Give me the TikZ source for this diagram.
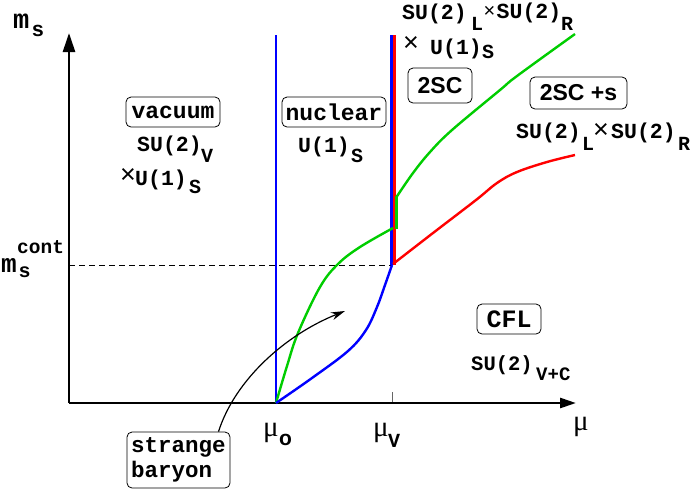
\documentclass[tikz,border=0pt]{standalone}
\usepackage{fontspec}
\setmainfont{Liberation Sans}
\newfontfamily\cour{Liberation Mono}
\newfontfamily\helv{Liberation Sans}
\newfontfamily\tms{Liberation Serif}
\usetikzlibrary{arrows.meta}
\definecolor{fgreen}{RGB}{0,205,0}
\definecolor{fblue}{RGB}{0,0,255}
\definecolor{fred}{RGB}{255,0,0}
\tikzset{
  lab/.style={inner sep=0pt, anchor=base west, font=\cour\bfseries\fontsize{21.5}{22}\selectfont},
  sublab/.style={inner sep=0pt, anchor=base west, font=\cour\bfseries\fontsize{20}{20}\selectfont},
  crosslab/.style={inner sep=0pt, anchor=center, font=\helv\fontsize{27}{27}\selectfont},
  mulab/.style={inner sep=0pt, anchor=base west, font=\tms\fontsize{29}{29}\selectfont},
  phasebox/.style={draw, rounded corners=5pt, line width=0.8pt, inner sep=0pt, anchor=center,
     font=\cour\bfseries\fontsize{23}{23}\selectfont},
  sansbox/.style={phasebox, font=\helv\bfseries\fontsize{23}{23}\selectfont},
  axisline/.style={line width=2.6pt},
  phline/.style={line width=2.4pt},
}
\begin{document}
\begin{tikzpicture}[x=1pt,y=-1pt]
\useasboundingbox (0,0) rectangle (692,491);
% axes
\coordinate (O) at (69,403);
\coordinate (ytip) at (69,33);
\coordinate (xtip) at (576,403);
\draw[axisline,-{Triangle[length=19pt,width=12pt]}] (O) -- (ytip);
\draw[axisline,-{Triangle[length=16pt,width=10pt]}] (O) -- (xtip);
% tick at mu_V
\coordinate (tickT) at (392,392);
\coordinate (tickB) at (392,402);
\draw[line width=0.6pt, black!60] (tickT) -- (tickB);
% dashed line
\coordinate (dL) at (69,265);
\coordinate (dR) at (392,265);
\draw[line width=0.7pt, dash pattern=on 6pt off 4pt] (dL) -- (dR);
% vertical line at mu_o
\coordinate (m0top) at (276,35);
\coordinate (m0bot) at (276,403);
\draw[phline, fblue] (m0top) -- (m0bot);
% red and blue vertical at mu_V
\coordinate (rtop) at (394.6,35);
\coordinate (rbot) at (394.6,265);
\draw[phline, fred] (rtop) -- (rbot);
\coordinate (btop) at (391.5,35);
\coordinate (bbot) at (391.5,265);
\draw[phline, fblue] (btop) -- (bbot);
% green vertical short segment
\coordinate (gvT) at (396.5,196);
\coordinate (gvB) at (396.5,229);
\draw[phline, fgreen, line cap=butt] (gvT) -- (gvB);
% lower green curve
\draw[phline, fgreen] plot[smooth, tension=0.6] coordinates {(276,403) (287,366) (298,333) (320,287) (338,264) (360,247) (393,228)};
% blue curve
\draw[phline, fblue] plot[smooth, tension=0.6] coordinates {(276,403) (312,378) (348,351) (366,330) (377,307) (385,285) (392,265)};
% red curve
\draw[phline, fred] plot[smooth, tension=0.6] coordinates {(393,264) (433,233) (476,200) (497,183) (517,172) (547,162) (575,155)};
% upper green curve
\draw[phline, fgreen] plot[smooth, tension=0.6] coordinates {(396.5,197) (413,173) (430,152) (452,130) (500,90) (517,76) (575,34)};
% labels: axes
\node[inner sep=0pt, anchor=base west, font=\cour\bfseries\fontsize{27}{27}\selectfont] (msm) at (13,28) {m};
\node[inner sep=0pt, anchor=base west, font=\helv\bfseries\fontsize{21}{21}\selectfont] (mss) at (32,36.5) {s};
\node[inner sep=0pt, anchor=base west, font=\cour\bfseries\fontsize{26}{26}\selectfont] (mcm) at (1,272) {m};
\node[inner sep=0pt, anchor=base west, font=\helv\bfseries\fontsize{20}{20}\selectfont] (mcs) at (19,277) {s};
\node[inner sep=0pt, anchor=base west, font=\cour\bfseries\fontsize{19.5}{20}\selectfont] (mcc) at (17,253) {cont};
\node[mulab] (mu0) at (263,436) {μ};
\node[inner sep=0pt, anchor=base west, font=\helv\bfseries\fontsize{21}{21}\selectfont] (mu0s) at (279,445.5) {o};
\node[mulab] (muV) at (373,436) {μ};
\node[sublab] (muVs) at (388,447) {V};
\node[mulab] (muax) at (573,430.5) {μ};
% phase boxes
\node[phasebox, minimum width=94pt, minimum height=30pt] (vac) at (173,112) {vacuum};
\node[phasebox, minimum width=104pt, minimum height=30pt] (nuc) at (334,112) {nuclear};
\node[sansbox, minimum width=64pt, minimum height=35pt] (tsc) at (440,85.5) {2SC};
\node[sansbox, minimum width=97pt, minimum height=32pt] (tscs) at (578.5,93) {2SC +s};
\node[phasebox, minimum width=64pt, minimum height=30pt, font=\cour\bfseries\fontsize{25}{25}\selectfont] (cfl) at (509,319) {CFL};
\node[phasebox, minimum width=103pt, minimum height=56pt, align=left, font=\cour\bfseries\fontsize{22.5}{25}\selectfont] (sb) at (178.5,460) {strange\\baryon};
% symmetry labels: vacuum
\node[lab] (vsu) at (137,151) {SU(2)};
\node[sublab] (vsuV) at (201,162) {V};
\node[crosslab] (vx) at (128,176) {×};
\node[lab] (vu) at (135,185) {U(1)};
\node[sublab] (vuS) at (189,193) {S};
% nuclear
\node[lab] (nu) at (298,152) {U(1)};
\node[sublab] (nuS) at (351,162) {S};
% top 2SC symmetry
\node[lab] (tsu1) at (402,19) {SU(2)};
\node[sublab] (tsuL) at (471,30) {L};
\node[crosslab, font=\helv\fontsize{20}{20}\selectfont] (tx1) at (489.5,12) {×};
\node[lab] (tsu2) at (496.5,18) {SU(2)};
\node[sublab] (tsuR) at (561,30) {R};
\node[crosslab] (tx2) at (411,44) {×};
\node[lab] (tu) at (430,54) {U(1)};
\node[sublab] (tuS) at (482,58) {S};
% 2SC+s symmetry
\node[lab] (ssu1) at (516,138) {SU(2)};
\node[sublab] (ssuL) at (582,150) {L};
\node[crosslab] (sx) at (601,131) {×};
\node[lab] (ssu2) at (611,138) {SU(2)};
\node[sublab] (ssuR) at (678,150) {R};
% CFL symmetry
\node[lab, font=\cour\bfseries\fontsize{20.5}{21}\selectfont] (csu) at (471,370) {SU(2)};
\node[sublab, font=\cour\bfseries\fontsize{19}{19}\selectfont] (csuV) at (536,380) {V+C};
% strange baryon arrow
\coordinate (sbtip) at (345,311);
\draw[line width=1.2pt, -{Stealth[length=14pt,width=8pt]}] (sb.north) ++(40,0) coordinate (sbst) .. controls (235,380) and (285,335) .. (sbtip);
\end{tikzpicture}
\end{document}
